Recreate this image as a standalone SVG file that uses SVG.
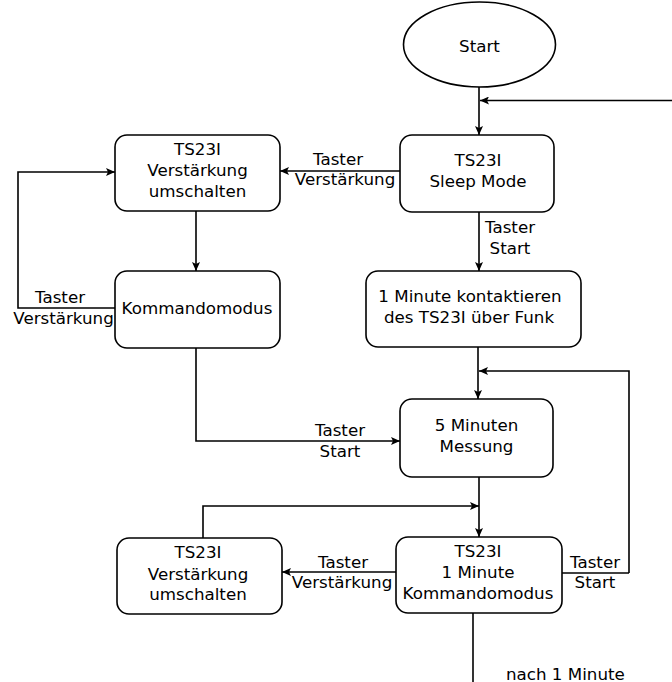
<svg xmlns="http://www.w3.org/2000/svg" width="672" height="682" viewBox="0 0 672 682">
<defs>
<marker id="arr" markerUnits="userSpaceOnUse" markerWidth="10" markerHeight="8" refX="9" refY="4" orient="auto">
<path d="M0,0 L9,4 L0,8 L2,4 z" fill="#000"/>
</marker>
<style>
.n{fill:#fff;stroke:#000;stroke-width:1.6}
.e{fill:none;stroke:#000;stroke-width:1.6;marker-end:url(#arr)}
.l{fill:none;stroke:#000;stroke-width:1.6}
text{font-family:"DejaVu Sans","Liberation Sans",sans-serif;font-size:16.7px;fill:#000}
.c{text-anchor:middle}
</style>
</defs>
<rect width="672" height="682" fill="#fff"/>
<g id="connectors">
<path class="e" d="M479,87 L479,135"/>
<path class="e" d="M672,100.5 L480,100.5"/>
<path class="e" d="M400,171 L280,171"/>
<path class="e" d="M479,212 L479,271"/>
<path class="e" d="M196,211 L196,271"/>
<path class="e" d="M115,308 L18,308 L18,172 L115,172"/>
<path class="e" d="M196,348 L196,441 L400,441"/>
<path class="e" d="M478,347 L478,399"/>
<path class="e" d="M629,573 L629,371 L479,371"/>
<path class="l" d="M562,573 L629,573"/>
<path class="e" d="M479,477 L479,537"/>
<path class="e" d="M203,538 L203,506 L479,506"/>
<path class="e" d="M396,572 L282,572"/>
<path class="l" d="M473,613 L473,682"/>
<text class="c" x="338" y="165">Taster</text>
<text class="c" x="345" y="185">Verstärkung</text>
<text class="c" x="510" y="233">Taster</text>
<text class="c" x="510" y="254">Start</text>
<text class="c" x="60" y="303">Taster</text>
<text class="c" x="63.5" y="324">Verstärkung</text>
<text class="c" x="340" y="436">Taster</text>
<text class="c" x="340" y="457">Start</text>
<text class="c" x="343" y="568">Taster</text>
<text class="c" x="342" y="588">Verstärkung</text>
<text class="c" x="595" y="568">Taster</text>
<text class="c" x="595" y="588">Start</text>
<text x="506" y="680">nach 1 Minute</text>
</g>
<g id="start">
<ellipse class="n" cx="479.5" cy="44.5" rx="76" ry="42.5"/>
<text class="c" x="479.5" y="52">Start</text>
</g>
<g id="sleep">
<rect class="n" x="400" y="135" width="154" height="77" rx="12"/>
<text class="c" x="478" y="166">TS23I</text>
<text class="c" x="478" y="187">Sleep Mode</text>
</g>
<g id="verst1">
<rect class="n" x="115" y="135" width="165" height="76" rx="12"/>
<text class="c" x="197.5" y="155">TS23I</text>
<text class="c" x="197.5" y="176">Verstärkung</text>
<text class="c" x="197.5" y="197">umschalten</text>
</g>
<g id="kommando">
<rect class="n" x="115" y="271" width="165" height="77" rx="12"/>
<text class="c" x="197" y="314">Kommandomodus</text>
</g>
<g id="kontakt">
<rect class="n" x="366" y="271" width="215" height="76" rx="12"/>
<text class="c" x="470" y="302">1 Minute kontaktieren</text>
<text class="c" x="469" y="323">des TS23I über Funk</text>
</g>
<g id="messung">
<rect class="n" x="400" y="399" width="153" height="78" rx="12"/>
<text class="c" x="476.5" y="431">5 Minuten</text>
<text class="c" x="476.5" y="452">Messung</text>
</g>
<g id="verst2">
<rect class="n" x="117" y="538" width="165" height="76" rx="12"/>
<text class="c" x="198" y="558">TS23I</text>
<text class="c" x="198" y="580">Verstärkung</text>
<text class="c" x="198" y="600">umschalten</text>
</g>
<g id="kommando1min">
<rect class="n" x="396" y="537" width="166" height="76" rx="12"/>
<text class="c" x="478" y="557">TS23I</text>
<text class="c" x="478" y="578">1 Minute</text>
<text class="c" x="478" y="599">Kommandomodus</text>
</g>
</svg>
